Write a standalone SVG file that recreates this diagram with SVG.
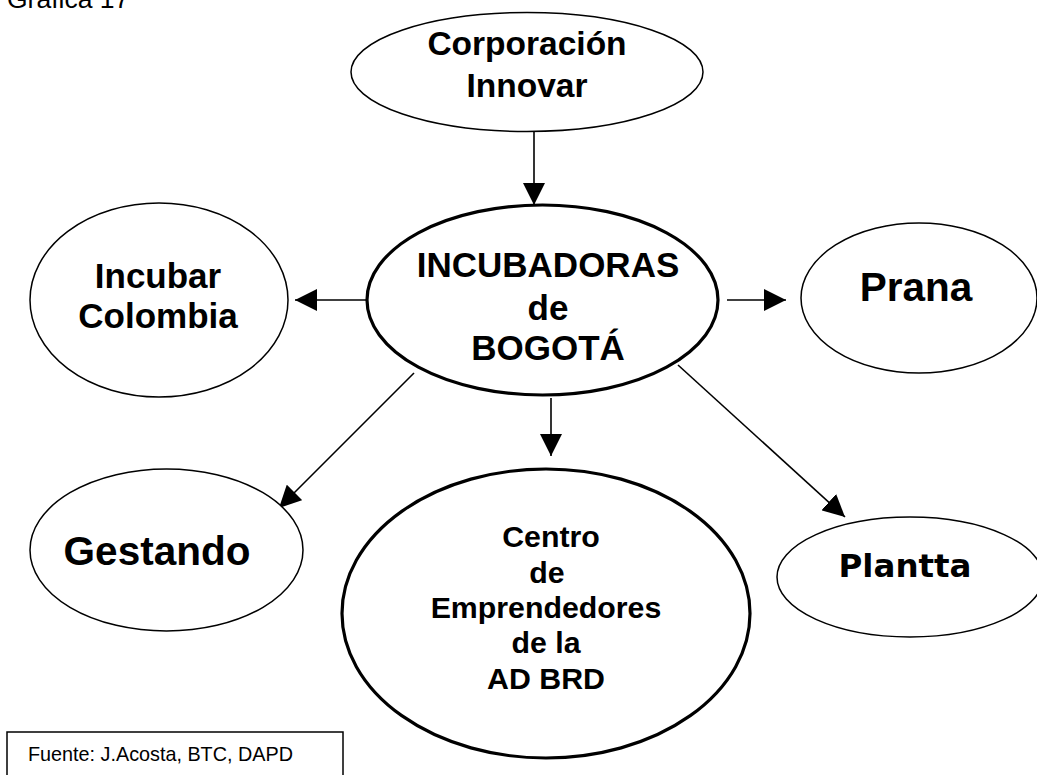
<svg xmlns="http://www.w3.org/2000/svg" width="1037" height="775" viewBox="0 0 1037 775">
<style>
.n{fill:#fff;stroke:#000;stroke-width:1.5}
.k{fill:#fff;stroke:#000;stroke-width:3.2}
.t{font-family:"Liberation Sans",Arial,sans-serif;font-weight:bold;text-anchor:middle;fill:#000}
.c{stroke:#000;stroke-width:1.6;fill:none;marker-end:url(#ah)}
</style>
<defs>
<marker id="ah" markerUnits="userSpaceOnUse" markerWidth="22" markerHeight="22" viewBox="0 0 20 20" refX="20" refY="10" orient="auto">
<path d="M0,0 L20,10 L0,20 z" fill="#000"/>
</marker>
</defs>
<rect width="1037" height="775" fill="#fff"/>
<text x="7" y="7.5" font-family="Liberation Sans,Arial,sans-serif" font-size="26.5" fill="#000">Gráfica 17</text>
<g id="connectors">
<line class="c" x1="534" y1="132" x2="534" y2="205"/>
<line class="c" x1="367" y1="300" x2="295" y2="300"/>
<line class="c" x1="727" y1="300" x2="786" y2="300"/>
<line class="c" x1="414" y1="373" x2="279" y2="508"/>
<line class="c" x1="551" y1="398" x2="551" y2="456"/>
<line class="c" x1="678" y1="365" x2="845" y2="517"/>
</g>
<g id="corporacion">
<ellipse class="n" cx="527" cy="72" rx="176" ry="59.5"/>
<text class="t" x="527" y="55" font-size="33.5">Corporación</text>
<text class="t" x="527" y="97" font-size="33.5">Innovar</text>
</g>
<g id="incubadoras">
<ellipse class="k" cx="542.5" cy="300" rx="175.5" ry="95"/>
<text class="t" x="548" y="277" font-size="35">INCUBADORAS</text>
<text class="t" x="548" y="320" font-size="35">de</text>
<text class="t" x="548" y="360" font-size="35">BOGOTÁ</text>
</g>
<g id="incubar">
<ellipse class="n" cx="159" cy="300" rx="129" ry="97"/>
<text class="t" x="158" y="288" font-size="35">Incubar</text>
<text class="t" x="158" y="328" font-size="35">Colombia</text>
</g>
<g id="prana">
<ellipse class="n" cx="919" cy="298" rx="118" ry="75"/>
<text class="t" x="916" y="301" font-size="40.5">Prana</text>
</g>
<g id="gestando">
<ellipse class="n" cx="166.5" cy="550" rx="136.5" ry="81"/>
<text class="t" x="157" y="565" font-size="40.5">Gestando</text>
</g>
<g id="centro">
<ellipse class="k" cx="546" cy="613.5" rx="204" ry="144.5"/>
<text class="t" x="551" y="547" font-size="30.3">Centro</text>
<text class="t" x="547" y="583" font-size="30.3">de</text>
<text class="t" x="546" y="618" font-size="30.3">Emprendedores</text>
<text class="t" x="546" y="653" font-size="30.3">de la</text>
<text class="t" x="546" y="689" font-size="30.3">AD BRD</text>
</g>
<g id="plantta">
<ellipse class="n" cx="910" cy="577" rx="133" ry="60"/>
<text x="905" y="577" font-family="DejaVu Sans,Verdana,sans-serif" font-weight="bold" font-size="32.5" text-anchor="middle" fill="#000">Plantta</text>
</g>
<g id="fuente">
<rect x="7" y="732" width="336" height="50" fill="#fff" stroke="#000" stroke-width="1.5"/>
<text x="28" y="761" font-family="Liberation Sans,Arial,sans-serif" font-size="19.8" fill="#000">Fuente: J.Acosta, BTC, DAPD</text>
</g>
</svg>
